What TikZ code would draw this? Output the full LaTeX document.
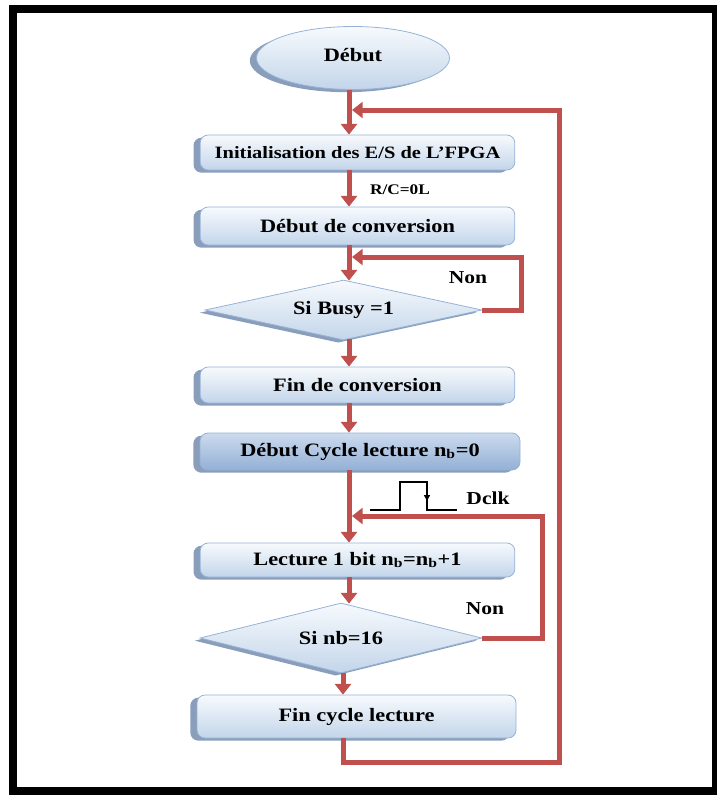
\documentclass[tikz,border=0pt]{standalone}
\usepackage{fontspec}
\setmainfont{Liberation Serif}[FakeStretch=1.18]
\usepackage{xcolor}
\usepackage{tikz}
\usetikzlibrary{arrows.meta,shapes.geometric,shadows,positioning,calc}

\definecolor{flowred}{HTML}{C0504D}
\definecolor{boxtop}{HTML}{F7FAFD}
\definecolor{boxbot}{HTML}{C3D5EA}
\definecolor{boxline}{HTML}{95B3D7}
\definecolor{shadeblue}{HTML}{8A9EBB}
\definecolor{darktop}{HTML}{CDDBEE}
\definecolor{darkbot}{HTML}{93B0D6}

\begin{document}
\begin{tikzpicture}[x=0.75pt,y=-0.75pt,
		procbox/.style={draw=boxline, line width=0.6pt, rounded corners=6pt, top color=boxtop, bottom color=boxbot,
			general shadow={fill=shadeblue, shadow xshift=-5pt, shadow yshift=-2pt},
			minimum width=236pt, inner sep=0pt, font=\fontsize{14.2}{16}\selectfont\bfseries},
		decision/.style={diamond, draw=boxline, line width=0.6pt, top color=boxtop, bottom color=boxbot,
			general shadow={fill=shadeblue, shadow xshift=-4pt, shadow yshift=-2pt},
			inner sep=0pt, font=\fontsize{14.2}{16}\selectfont\bfseries},
		flow/.style={draw=flowred, line width=3.75pt, -{Triangle[width=12pt,length=8pt]}},
		note/.style={font=\fontsize{13.7}{16}\selectfont\bfseries}]
		\useasboundingbox (0,0) rectangle (717,796);
		\draw[line width=6pt] (13,9) rectangle (716,791);

		% blocs
		\node[ellipse, draw=boxline, line width=0.6pt, top color=boxtop, bottom color=boxbot,
			general shadow={fill=shadeblue, shadow xshift=-5pt, shadow yshift=-2pt},
			minimum width=144.75pt, minimum height=47.25pt, font=\fontsize{14.2}{16}\selectfont\bfseries] (debut) at (353,58) {\raisebox{5pt}{Début}};
		\node[procbox, minimum height=26.25pt, font=\fontsize{13}{15}\selectfont\bfseries] (init) at (357.5,152.5) {Initialisation des E/S de L’FPGA};
		\node[procbox, minimum height=28.5pt] (debconv) at (357.5,226) {Début de conversion};
		\node[decision, aspect=4.6, minimum width=207.75pt, minimum height=45pt] (busy) at (343.5,310) {Si Busy =1};
		\node[procbox, minimum height=27pt] (finconv) at (357.5,385) {Fin de conversion};
		\node[procbox, minimum width=240pt, minimum height=27.75pt, top color=darktop, bottom color=darkbot] (debcycle) at (360,451.5) {Début Cycle lecture n\textsubscript{b}=0};
		\node[procbox, minimum height=25.5pt] (lect) at (357.5,560) {Lecture 1 bit n\textsubscript{b}=n\textsubscript{b}+1};
		\node[decision, aspect=4, minimum width=211.5pt, minimum height=52.5pt] (nb) at (341,638) {Si nb=16};
		\node[procbox, minimum width=239.25pt, minimum height=32.25pt] (fincycle) at (356.5,716.5) {Fin cycle lecture};

		% etiquettes
		\node[font=\fontsize{11}{13}\selectfont\bfseries] (rc) at (400,190) {R/C=0L};
		\node[note] (non1) at (468,278) {Non};
		\node[note] (non2) at (485,609) {Non};
		\node[note] (dclk) at (488,498) {Dclk};

		% signal Dclk
		\draw[line width=1.5pt] (370,510) -- (400,510) -- (400,482) -- (427,482) -- (427,510) -- (457,510);
		\draw[line width=1pt, -{Triangle[width=4.5pt,length=4.5pt]}] (427,488) -- (427,501);

		% liaisons
		\coordinate (spine) at (349,0);
		\coordinate (nbcol) at (343,0);
		\coordinate (topjoin) at (352,110);
		\coordinate (outer) at (559,762);
		\coordinate (busyret) at (521,257);
		\coordinate (busyjoin) at (352,257);
		\coordinate (nbret) at (542,516);
		\coordinate (nbjoin) at (352,516);

		\draw[flow] (debut.south -| spine) -- (init.north -| spine);
		\draw[flow] (init.south -| spine) -- (debconv.north -| spine);
		\draw[flow] (debconv.south -| spine) -- ($(busy.north -| spine)+(0,1)$);
		\draw[flow] ($(busy.south -| spine)+(0,-1)$) -- (finconv.north -| spine);
		\draw[flow] (finconv.south -| spine) -- (debcycle.north -| spine);
		\draw[flow] (debcycle.south -| spine) -- (lect.north -| spine);
		\draw[flow] (lect.south -| spine) -- ($(nb.north -| spine)+(0,1)$);
		\draw[flow] (nb.south -| nbcol) -- (fincycle.north -| nbcol);

		\draw[flow] (busy.east) -| (busyret) -- (busyjoin);
		\draw[flow] (nb.east) -| (nbret) -- (nbjoin);
		\draw[flow] (fincycle.south -| nbcol) |- (outer) |- (topjoin);
	\end{tikzpicture}
\end{document}
